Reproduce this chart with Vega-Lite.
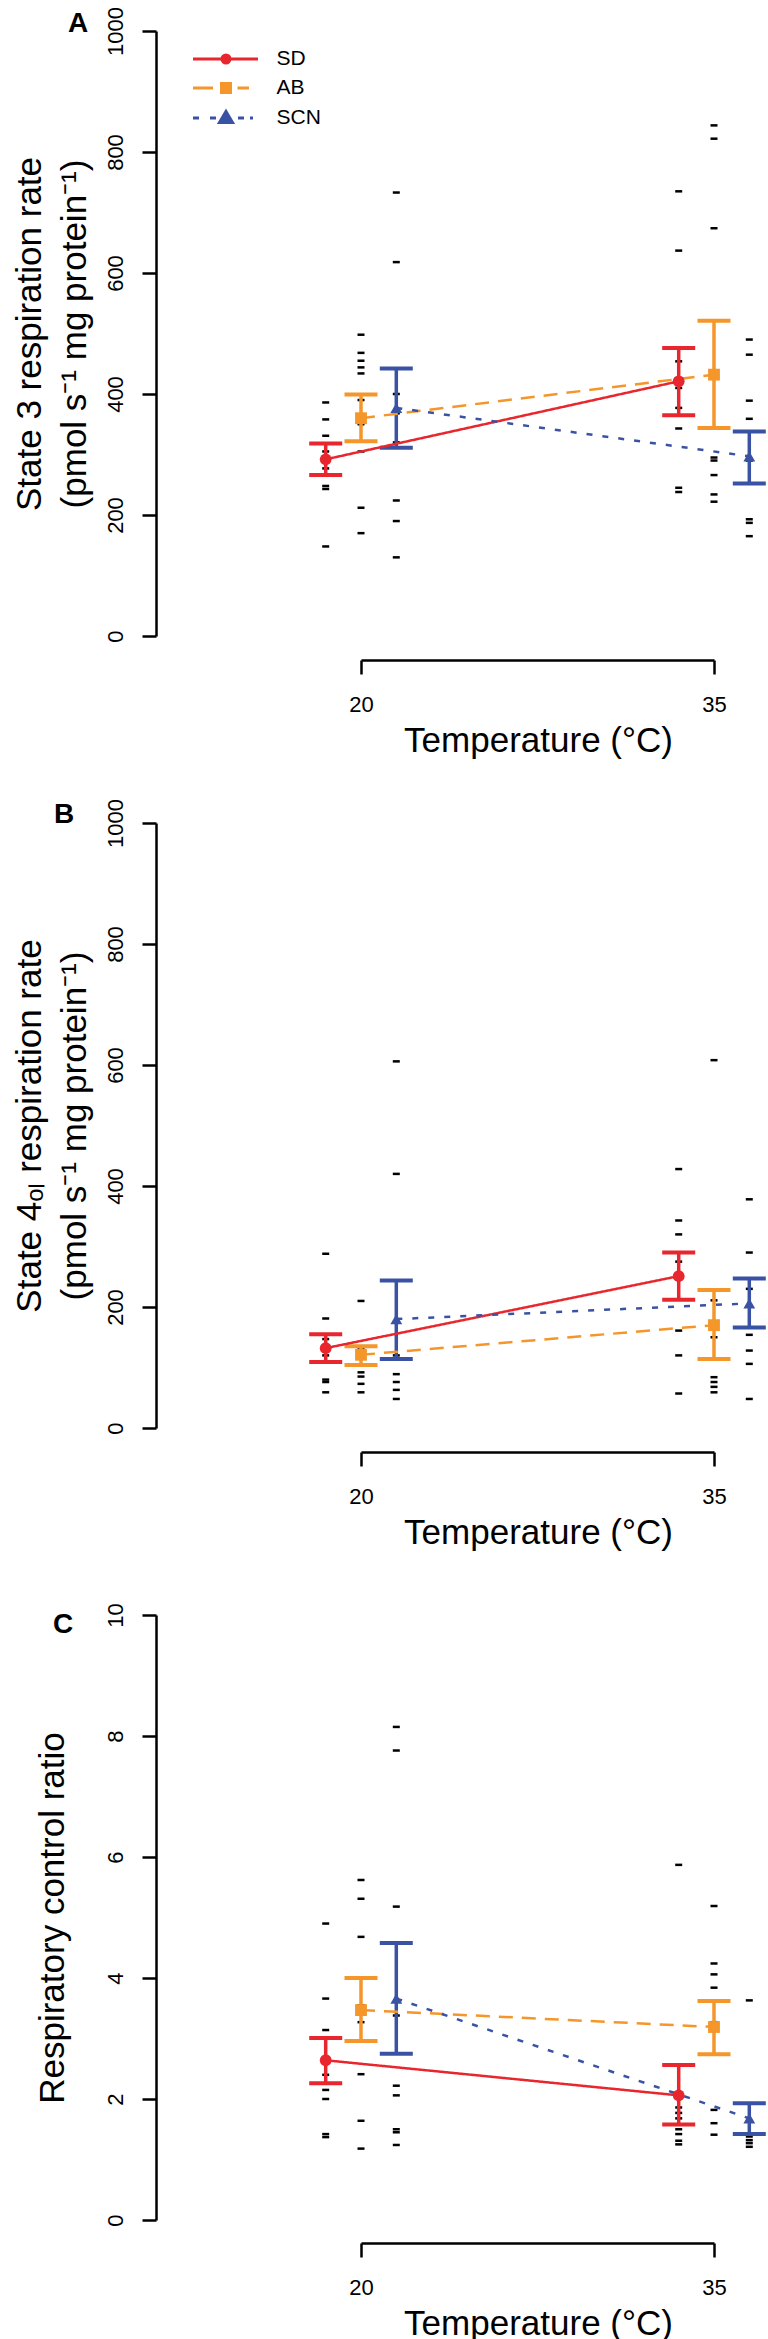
{
  "$schema": "https://vega.github.io/schema/vega-lite/v6.json",
  "background": "white",
  "autosize": {"type": "pad"},
  "padding": {"left": 12, "top": 6, "right": 0, "bottom": 0},
  "bounds": "flush",
  "spacing": 187,
  "resolve": {"scale": {"color": "independent", "shape": "independent", "strokeDash": "independent", "fill": "independent", "stroke": "independent"}},
  "datasets": {
    "aMeans": [
      {"group": "SD", "temp": 20, "x": 18.5, "mean": 292, "lo": 266, "hi": 318},
      {"group": "AB", "temp": 20, "x": 20, "mean": 360, "lo": 322, "hi": 399},
      {"group": "SCN", "temp": 20, "x": 21.5, "mean": 377, "lo": 311, "hi": 442},
      {"group": "SD", "temp": 35, "x": 33.5, "mean": 421, "lo": 365, "hi": 476},
      {"group": "AB", "temp": 35, "x": 35, "mean": 432, "lo": 344, "hi": 521},
      {"group": "SCN", "temp": 35, "x": 36.5, "mean": 297, "lo": 252, "hi": 338}
    ],
    "bMeans": [
      {"group": "SD", "temp": 20, "x": 18.5, "mean": 132, "lo": 109, "hi": 155},
      {"group": "AB", "temp": 20, "x": 20, "mean": 121, "lo": 104, "hi": 135},
      {"group": "SCN", "temp": 20, "x": 21.5, "mean": 180, "lo": 114, "hi": 244},
      {"group": "SD", "temp": 35, "x": 33.5, "mean": 251, "lo": 212, "hi": 290},
      {"group": "AB", "temp": 35, "x": 35, "mean": 170, "lo": 114, "hi": 228},
      {"group": "SCN", "temp": 35, "x": 36.5, "mean": 206, "lo": 166, "hi": 247}
    ],
    "cMeans": [
      {"group": "SD", "temp": 20, "x": 18.5, "mean": 2.64, "lo": 2.26, "hi": 3.01},
      {"group": "AB", "temp": 20, "x": 20, "mean": 3.47, "lo": 2.96, "hi": 4.0},
      {"group": "SCN", "temp": 20, "x": 21.5, "mean": 3.66, "lo": 2.75, "hi": 4.58},
      {"group": "SD", "temp": 35, "x": 33.5, "mean": 2.06, "lo": 1.58, "hi": 2.56},
      {"group": "AB", "temp": 35, "x": 35, "mean": 3.19, "lo": 2.74, "hi": 3.62},
      {"group": "SCN", "temp": 35, "x": 36.5, "mean": 1.68, "lo": 1.42, "hi": 1.93}
    ],
    "aPts": [
      {"group": "SD", "x": 18.5, "value": 386}, {"group": "SD", "x": 18.5, "value": 358}, {"group": "SD", "x": 18.5, "value": 331}, {"group": "SD", "x": 18.5, "value": 305}, {"group": "SD", "x": 18.5, "value": 277}, {"group": "SD", "x": 18.5, "value": 248}, {"group": "SD", "x": 18.5, "value": 243}, {"group": "SD", "x": 18.5, "value": 148},
      {"group": "AB", "x": 20, "value": 498}, {"group": "AB", "x": 20, "value": 468}, {"group": "AB", "x": 20, "value": 455}, {"group": "AB", "x": 20, "value": 444}, {"group": "AB", "x": 20, "value": 434}, {"group": "AB", "x": 20, "value": 390}, {"group": "AB", "x": 20, "value": 350}, {"group": "AB", "x": 20, "value": 305}, {"group": "AB", "x": 20, "value": 212}, {"group": "AB", "x": 20, "value": 170},
      {"group": "SCN", "x": 21.5, "value": 733}, {"group": "SCN", "x": 21.5, "value": 618}, {"group": "SCN", "x": 21.5, "value": 400}, {"group": "SCN", "x": 21.5, "value": 368}, {"group": "SCN", "x": 21.5, "value": 320}, {"group": "SCN", "x": 21.5, "value": 224}, {"group": "SCN", "x": 21.5, "value": 190}, {"group": "SCN", "x": 21.5, "value": 130},
      {"group": "SD", "x": 33.5, "value": 735}, {"group": "SD", "x": 33.5, "value": 637}, {"group": "SD", "x": 33.5, "value": 454}, {"group": "SD", "x": 33.5, "value": 410}, {"group": "SD", "x": 33.5, "value": 377}, {"group": "SD", "x": 33.5, "value": 343}, {"group": "SD", "x": 33.5, "value": 245}, {"group": "SD", "x": 33.5, "value": 238},
      {"group": "AB", "x": 35, "value": 844}, {"group": "AB", "x": 35, "value": 822}, {"group": "AB", "x": 35, "value": 674}, {"group": "AB", "x": 35, "value": 295}, {"group": "AB", "x": 35, "value": 290}, {"group": "AB", "x": 35, "value": 266}, {"group": "AB", "x": 35, "value": 234}, {"group": "AB", "x": 35, "value": 222},
      {"group": "SCN", "x": 36.5, "value": 490}, {"group": "SCN", "x": 36.5, "value": 465}, {"group": "SCN", "x": 36.5, "value": 389}, {"group": "SCN", "x": 36.5, "value": 359}, {"group": "SCN", "x": 36.5, "value": 290}, {"group": "SCN", "x": 36.5, "value": 193}, {"group": "SCN", "x": 36.5, "value": 187}, {"group": "SCN", "x": 36.5, "value": 165}
    ],
    "bPts": [
      {"group": "SD", "x": 18.5, "value": 288}, {"group": "SD", "x": 18.5, "value": 181}, {"group": "SD", "x": 18.5, "value": 147}, {"group": "SD", "x": 18.5, "value": 120}, {"group": "SD", "x": 18.5, "value": 80}, {"group": "SD", "x": 18.5, "value": 76}, {"group": "SD", "x": 18.5, "value": 59},
      {"group": "AB", "x": 20, "value": 210}, {"group": "AB", "x": 20, "value": 130}, {"group": "AB", "x": 20, "value": 115}, {"group": "AB", "x": 20, "value": 92}, {"group": "AB", "x": 20, "value": 85}, {"group": "AB", "x": 20, "value": 73}, {"group": "AB", "x": 20, "value": 59},
      {"group": "SCN", "x": 21.5, "value": 606}, {"group": "SCN", "x": 21.5, "value": 420}, {"group": "SCN", "x": 21.5, "value": 120}, {"group": "SCN", "x": 21.5, "value": 89}, {"group": "SCN", "x": 21.5, "value": 76}, {"group": "SCN", "x": 21.5, "value": 63}, {"group": "SCN", "x": 21.5, "value": 48},
      {"group": "SD", "x": 33.5, "value": 428}, {"group": "SD", "x": 33.5, "value": 343}, {"group": "SD", "x": 33.5, "value": 320}, {"group": "SD", "x": 33.5, "value": 275}, {"group": "SD", "x": 33.5, "value": 161}, {"group": "SD", "x": 33.5, "value": 120}, {"group": "SD", "x": 33.5, "value": 57},
      {"group": "AB", "x": 35, "value": 608}, {"group": "AB", "x": 35, "value": 211}, {"group": "AB", "x": 35, "value": 150}, {"group": "AB", "x": 35, "value": 84}, {"group": "AB", "x": 35, "value": 76}, {"group": "AB", "x": 35, "value": 68}, {"group": "AB", "x": 35, "value": 59},
      {"group": "SCN", "x": 36.5, "value": 378}, {"group": "SCN", "x": 36.5, "value": 290}, {"group": "SCN", "x": 36.5, "value": 230}, {"group": "SCN", "x": 36.5, "value": 154}, {"group": "SCN", "x": 36.5, "value": 128}, {"group": "SCN", "x": 36.5, "value": 106}, {"group": "SCN", "x": 36.5, "value": 48}
    ],
    "cPts": [
      {"group": "SD", "x": 18.5, "value": 4.9}, {"group": "SD", "x": 18.5, "value": 3.66}, {"group": "SD", "x": 18.5, "value": 3.14}, {"group": "SD", "x": 18.5, "value": 2.4}, {"group": "SD", "x": 18.5, "value": 2.15}, {"group": "SD", "x": 18.5, "value": 2.0}, {"group": "SD", "x": 18.5, "value": 1.42}, {"group": "SD", "x": 18.5, "value": 1.37},
      {"group": "AB", "x": 20, "value": 5.62}, {"group": "AB", "x": 20, "value": 5.31}, {"group": "AB", "x": 20, "value": 4.68}, {"group": "AB", "x": 20, "value": 3.55}, {"group": "AB", "x": 20, "value": 3.27}, {"group": "AB", "x": 20, "value": 2.41}, {"group": "AB", "x": 20, "value": 1.64}, {"group": "AB", "x": 20, "value": 1.18},
      {"group": "SCN", "x": 21.5, "value": 8.15}, {"group": "SCN", "x": 21.5, "value": 7.76}, {"group": "SCN", "x": 21.5, "value": 5.18}, {"group": "SCN", "x": 21.5, "value": 3.38}, {"group": "SCN", "x": 21.5, "value": 2.22}, {"group": "SCN", "x": 21.5, "value": 2.06}, {"group": "SCN", "x": 21.5, "value": 1.5}, {"group": "SCN", "x": 21.5, "value": 1.45}, {"group": "SCN", "x": 21.5, "value": 1.24},
      {"group": "SD", "x": 33.5, "value": 5.87}, {"group": "SD", "x": 33.5, "value": 1.86}, {"group": "SD", "x": 33.5, "value": 1.77}, {"group": "SD", "x": 33.5, "value": 1.68}, {"group": "SD", "x": 33.5, "value": 1.5}, {"group": "SD", "x": 33.5, "value": 1.42}, {"group": "SD", "x": 33.5, "value": 1.31}, {"group": "SD", "x": 33.5, "value": 1.25},
      {"group": "AB", "x": 35, "value": 5.19}, {"group": "AB", "x": 35, "value": 4.24}, {"group": "AB", "x": 35, "value": 4.06}, {"group": "AB", "x": 35, "value": 3.84}, {"group": "AB", "x": 35, "value": 3.27}, {"group": "AB", "x": 35, "value": 1.82}, {"group": "AB", "x": 35, "value": 1.6}, {"group": "AB", "x": 35, "value": 1.41},
      {"group": "SCN", "x": 36.5, "value": 3.63}, {"group": "SCN", "x": 36.5, "value": 1.38}, {"group": "SCN", "x": 36.5, "value": 1.32}, {"group": "SCN", "x": 36.5, "value": 1.27}, {"group": "SCN", "x": 36.5, "value": 1.21}
    ]
  },
  "vconcat": [
    {
      "width": 353,
      "height": 605,
      "title": {"text": "A", "anchor": "start", "frame": "group", "orient": "top", "offset": 0, "dx": -293, "dy": 53, "fontSize": 28, "fontWeight": "bold", "font": "Liberation Sans", "color": "black", "baseline": "alphabetic"},
      "resolve": {"scale": {"shape": "independent", "fill": "independent", "stroke": "independent"}},
      "layer": [
        {
          "data": {"name": "aPts"},
          "mark": {"type": "tick", "orient": "horizontal", "size": 7, "thickness": 2.5, "color": "black", "opacity": 1},
          "encoding": {
            "x": {"field": "x", "type": "quantitative", "title": "Temperature (°C)", "scale": {"domain": [20, 35], "nice": false, "zero": false},
                  "axis": {"values": [20, 35], "offset": 24, "labelPadding": 20, "title": "Temperature (°C)", "titleFontSize": 35, "titleX": 177, "titleY": 91, "titleAlign": "center", "titleBaseline": "alphabetic"}},
            "y": {"field": "value", "type": "quantitative", "title": ["State 3 respiration rate", "(pmol s⁻¹ mg protein⁻¹)"], "scale": {"domain": [0, 1000], "nice": false, "zero": false},
                  "axis": {"values": [0, 200, 400, 600, 800, 1000], "format": "d", "offset": 205, "labelAngle": 270, "labelAlign": "center", "labelBaseline": "bottom", "labelPadding": 15, "title": ["State 3 respiration rate", "(pmol s⁻¹ mg protein⁻¹)"], "titleFontSize": 35, "titleX": -116, "titleY": 302.5, "titleAngle": 270, "titleAlign": "center", "titleBaseline": "alphabetic", "titleLineHeight": 45}}
          }
        },
        {
          "data": {"name": "aMeans"},
          "mark": {"type": "rule", "strokeWidth": 3.5},
          "encoding": {
            "x": {"field": "x", "type": "quantitative", "title": "Temperature (°C)", "scale": {"domain": [20, 35], "nice": false, "zero": false}},
            "y": {"field": "lo", "type": "quantitative", "title": ["State 3 respiration rate", "(pmol s⁻¹ mg protein⁻¹)"], "scale": {"domain": [0, 1000], "nice": false, "zero": false}},
            "y2": {"field": "hi"},
            "color": {"field": "group", "type": "nominal", "scale": {"domain": ["SD", "AB", "SCN"], "range": ["#e8262d", "#f5962a", "#3a52a3"]}, "legend": null}
          }
        },
        {
          "data": {"name": "aMeans"},
          "mark": {"type": "tick", "orient": "horizontal", "size": 33, "thickness": 4, "opacity": 1},
          "encoding": {
            "x": {"field": "x", "type": "quantitative", "title": "Temperature (°C)", "scale": {"domain": [20, 35], "nice": false, "zero": false}},
            "y": {"field": "hi", "type": "quantitative", "title": ["State 3 respiration rate", "(pmol s⁻¹ mg protein⁻¹)"], "scale": {"domain": [0, 1000], "nice": false, "zero": false}},
            "color": {"field": "group", "type": "nominal", "scale": {"domain": ["SD", "AB", "SCN"], "range": ["#e8262d", "#f5962a", "#3a52a3"]}, "legend": null}
          }
        },
        {
          "data": {"name": "aMeans"},
          "mark": {"type": "tick", "orient": "horizontal", "size": 33, "thickness": 4, "opacity": 1},
          "encoding": {
            "x": {"field": "x", "type": "quantitative", "title": "Temperature (°C)", "scale": {"domain": [20, 35], "nice": false, "zero": false}},
            "y": {"field": "lo", "type": "quantitative", "title": ["State 3 respiration rate", "(pmol s⁻¹ mg protein⁻¹)"], "scale": {"domain": [0, 1000], "nice": false, "zero": false}},
            "color": {"field": "group", "type": "nominal", "scale": {"domain": ["SD", "AB", "SCN"], "range": ["#e8262d", "#f5962a", "#3a52a3"]}, "legend": null}
          }
        },
        {
          "data": {"name": "aMeans"},
          "mark": {"type": "line", "strokeWidth": 2.5},
          "encoding": {
            "x": {"field": "x", "type": "quantitative", "title": "Temperature (°C)", "scale": {"domain": [20, 35], "nice": false, "zero": false}},
            "y": {"field": "mean", "type": "quantitative", "title": ["State 3 respiration rate", "(pmol s⁻¹ mg protein⁻¹)"], "scale": {"domain": [0, 1000], "nice": false, "zero": false}},
            "color": {"field": "group", "type": "nominal", "scale": {"domain": ["SD", "AB", "SCN"], "range": ["#e8262d", "#f5962a", "#3a52a3"]}, "legend": null},
            "strokeDash": {"field": "group", "type": "nominal", "scale": {"domain": ["SD", "AB", "SCN"], "range": [[1, 0], [14, 9], [6, 10]]}, "legend": null}
          }
        },
        {
          "data": {"name": "aMeans"},
          "mark": {"type": "point", "filled": true, "size": 140, "opacity": 1},
          "encoding": {
            "x": {"field": "x", "type": "quantitative", "title": "Temperature (°C)", "scale": {"domain": [20, 35], "nice": false, "zero": false}},
            "y": {"field": "mean", "type": "quantitative", "title": ["State 3 respiration rate", "(pmol s⁻¹ mg protein⁻¹)"], "scale": {"domain": [0, 1000], "nice": false, "zero": false}},
            "color": {"field": "group", "type": "nominal", "scale": {"domain": ["SD", "AB", "SCN"], "range": ["#e8262d", "#f5962a", "#3a52a3"]}, "legend": null},
            "shape": {"field": "group", "type": "nominal", "scale": {"domain": ["SD", "AB", "SCN"], "range": ["circle", "square", "triangle-up"]}, "legend": null}
          }
        },
        {
          "data": {"name": "aMeans"},
          "transform": [{"filter": "false"}],
          "mark": {"type": "point", "filled": true, "opacity": 1},
          "encoding": {
            "fill": {"field": "group", "type": "nominal", "scale": {"domain": ["SD", "AB", "SCN"], "range": ["#e8262d", "#f5962a", "#3a52a3"]},
                     "legend": {"title": null, "orient": "none", "legendX": -145.5, "legendY": 17.5, "symbolSize": 100, "symbolStrokeWidth": 3, "labelFontSize": 21, "labelFont": "Liberation Sans", "labelColor": "black", "labelOffset": 40, "rowPadding": 7, "padding": 0, "labelLimit": 0}},
            "stroke": {"field": "group", "type": "nominal", "scale": {"domain": ["SD", "AB", "SCN"], "range": ["#e8262d", "#f5962a", "#3a52a3"]},
                     "legend": {"title": null, "orient": "none", "legendX": -145.5, "legendY": 17.5, "symbolSize": 100, "symbolStrokeWidth": 3, "labelFontSize": 21, "labelFont": "Liberation Sans", "labelColor": "black", "labelOffset": 40, "rowPadding": 7, "padding": 0, "labelLimit": 0}},
            "shape": {"field": "group", "type": "nominal", "scale": {"domain": ["SD", "AB", "SCN"], "range": ["M-6.6,0L6.4,0M-0.8,0A0.8,0.8 0 1,0 0.8,0A0.8,0.8 0 1,0 -0.8,0Z", "M-6.6,0L-2.6,0M2.3,0L4.6,0M-0.9,-0.9L0.9,-0.9L0.9,0.9L-0.9,0.9Z", "M-6.6,0L-5.4,0M-3.2,0L-2,0M2.4,0L3.6,0M4.8,0L5.4,0M0,-1.3L1.3,0.9L-1.3,0.9Z"]},
                     "legend": {"title": null, "orient": "none", "legendX": -145.5, "legendY": 17.5, "symbolSize": 100, "symbolStrokeWidth": 3, "labelFontSize": 21, "labelFont": "Liberation Sans", "labelColor": "black", "labelOffset": 40, "rowPadding": 7, "padding": 0, "labelLimit": 0}}
          }
        }
      ]
    },
    {
      "width": 353,
      "height": 605,
      "title": {"text": "B", "anchor": "start", "frame": "group", "orient": "top", "offset": 0, "dx": -307, "dy": 52, "fontSize": 28, "fontWeight": "bold", "font": "Liberation Sans", "color": "black", "baseline": "alphabetic"},
      "layer": [
        {
          "data": {"name": "bPts"},
          "mark": {"type": "tick", "orient": "horizontal", "size": 7, "thickness": 2.5, "color": "black", "opacity": 1},
          "encoding": {
            "x": {"field": "x", "type": "quantitative", "title": "Temperature (°C)", "scale": {"domain": [20, 35], "nice": false, "zero": false},
                  "axis": {"values": [20, 35], "offset": 24, "labelPadding": 20, "title": "Temperature (°C)", "titleFontSize": 35, "titleX": 177, "titleY": 91, "titleAlign": "center", "titleBaseline": "alphabetic"}},
            "y": {"field": "value", "type": "quantitative", "title": ["State 4ₒₗ respiration rate", "(pmol s⁻¹ mg protein⁻¹)"], "scale": {"domain": [0, 1000], "nice": false, "zero": false},
                  "axis": {"values": [0, 200, 400, 600, 800, 1000], "format": "d", "offset": 205, "labelAngle": 270, "labelAlign": "center", "labelBaseline": "bottom", "labelPadding": 15, "title": ["State 4ₒₗ respiration rate", "(pmol s⁻¹ mg protein⁻¹)"], "titleFontSize": 35, "titleX": -116, "titleY": 302.5, "titleAngle": 270, "titleAlign": "center", "titleBaseline": "alphabetic", "titleLineHeight": 45}}
          }
        },
        {
          "data": {"name": "bMeans"},
          "mark": {"type": "rule", "strokeWidth": 3.5},
          "encoding": {
            "x": {"field": "x", "type": "quantitative", "title": "Temperature (°C)", "scale": {"domain": [20, 35], "nice": false, "zero": false}},
            "y": {"field": "lo", "type": "quantitative", "title": ["State 4ₒₗ respiration rate", "(pmol s⁻¹ mg protein⁻¹)"], "scale": {"domain": [0, 1000], "nice": false, "zero": false}},
            "y2": {"field": "hi"},
            "color": {"field": "group", "type": "nominal", "scale": {"domain": ["SD", "AB", "SCN"], "range": ["#e8262d", "#f5962a", "#3a52a3"]}, "legend": null}
          }
        },
        {
          "data": {"name": "bMeans"},
          "mark": {"type": "tick", "orient": "horizontal", "size": 33, "thickness": 4, "opacity": 1},
          "encoding": {
            "x": {"field": "x", "type": "quantitative", "title": "Temperature (°C)", "scale": {"domain": [20, 35], "nice": false, "zero": false}},
            "y": {"field": "hi", "type": "quantitative", "title": ["State 4ₒₗ respiration rate", "(pmol s⁻¹ mg protein⁻¹)"], "scale": {"domain": [0, 1000], "nice": false, "zero": false}},
            "color": {"field": "group", "type": "nominal", "scale": {"domain": ["SD", "AB", "SCN"], "range": ["#e8262d", "#f5962a", "#3a52a3"]}, "legend": null}
          }
        },
        {
          "data": {"name": "bMeans"},
          "mark": {"type": "tick", "orient": "horizontal", "size": 33, "thickness": 4, "opacity": 1},
          "encoding": {
            "x": {"field": "x", "type": "quantitative", "title": "Temperature (°C)", "scale": {"domain": [20, 35], "nice": false, "zero": false}},
            "y": {"field": "lo", "type": "quantitative", "title": ["State 4ₒₗ respiration rate", "(pmol s⁻¹ mg protein⁻¹)"], "scale": {"domain": [0, 1000], "nice": false, "zero": false}},
            "color": {"field": "group", "type": "nominal", "scale": {"domain": ["SD", "AB", "SCN"], "range": ["#e8262d", "#f5962a", "#3a52a3"]}, "legend": null}
          }
        },
        {
          "data": {"name": "bMeans"},
          "mark": {"type": "line", "strokeWidth": 2.5},
          "encoding": {
            "x": {"field": "x", "type": "quantitative", "title": "Temperature (°C)", "scale": {"domain": [20, 35], "nice": false, "zero": false}},
            "y": {"field": "mean", "type": "quantitative", "title": ["State 4ₒₗ respiration rate", "(pmol s⁻¹ mg protein⁻¹)"], "scale": {"domain": [0, 1000], "nice": false, "zero": false}},
            "color": {"field": "group", "type": "nominal", "scale": {"domain": ["SD", "AB", "SCN"], "range": ["#e8262d", "#f5962a", "#3a52a3"]}, "legend": null},
            "strokeDash": {"field": "group", "type": "nominal", "scale": {"domain": ["SD", "AB", "SCN"], "range": [[1, 0], [14, 9], [6, 10]]}, "legend": null}
          }
        },
        {
          "data": {"name": "bMeans"},
          "mark": {"type": "point", "filled": true, "size": 140, "opacity": 1},
          "encoding": {
            "x": {"field": "x", "type": "quantitative", "title": "Temperature (°C)", "scale": {"domain": [20, 35], "nice": false, "zero": false}},
            "y": {"field": "mean", "type": "quantitative", "title": ["State 4ₒₗ respiration rate", "(pmol s⁻¹ mg protein⁻¹)"], "scale": {"domain": [0, 1000], "nice": false, "zero": false}},
            "color": {"field": "group", "type": "nominal", "scale": {"domain": ["SD", "AB", "SCN"], "range": ["#e8262d", "#f5962a", "#3a52a3"]}, "legend": null},
            "shape": {"field": "group", "type": "nominal", "scale": {"domain": ["SD", "AB", "SCN"], "range": ["circle", "square", "triangle-up"]}, "legend": null}
          }
        }
      ]
    },
    {
      "width": 353,
      "height": 605,
      "title": {"text": "C", "anchor": "start", "frame": "group", "orient": "top", "offset": 0, "dx": -308, "dy": 58, "fontSize": 28, "fontWeight": "bold", "font": "Liberation Sans", "color": "black", "baseline": "alphabetic"},
      "layer": [
        {
          "data": {"name": "cPts"},
          "mark": {"type": "tick", "orient": "horizontal", "size": 7, "thickness": 2.5, "color": "black", "opacity": 1},
          "encoding": {
            "x": {"field": "x", "type": "quantitative", "title": "Temperature (°C)", "scale": {"domain": [20, 35], "nice": false, "zero": false},
                  "axis": {"values": [20, 35], "offset": 23, "labelPadding": 20, "title": "Temperature (°C)", "titleFontSize": 35, "titleX": 177, "titleY": 91, "titleAlign": "center", "titleBaseline": "alphabetic"}},
            "y": {"field": "value", "type": "quantitative", "title": "Respiratory control ratio", "scale": {"domain": [0, 10], "nice": false, "zero": false},
                  "axis": {"values": [0, 2, 4, 6, 8, 10], "format": "d", "offset": 205, "labelAngle": 270, "labelAlign": "center", "labelBaseline": "bottom", "labelPadding": 15, "title": "Respiratory control ratio", "titleFontSize": 35, "titleX": -93, "titleY": 302.5, "titleAngle": 270, "titleAlign": "center", "titleBaseline": "alphabetic"}}
          }
        },
        {
          "data": {"name": "cMeans"},
          "mark": {"type": "rule", "strokeWidth": 3.5},
          "encoding": {
            "x": {"field": "x", "type": "quantitative", "title": "Temperature (°C)", "scale": {"domain": [20, 35], "nice": false, "zero": false}},
            "y": {"field": "lo", "type": "quantitative", "title": "Respiratory control ratio", "scale": {"domain": [0, 10], "nice": false, "zero": false}},
            "y2": {"field": "hi"},
            "color": {"field": "group", "type": "nominal", "scale": {"domain": ["SD", "AB", "SCN"], "range": ["#e8262d", "#f5962a", "#3a52a3"]}, "legend": null}
          }
        },
        {
          "data": {"name": "cMeans"},
          "mark": {"type": "tick", "orient": "horizontal", "size": 33, "thickness": 4, "opacity": 1},
          "encoding": {
            "x": {"field": "x", "type": "quantitative", "title": "Temperature (°C)", "scale": {"domain": [20, 35], "nice": false, "zero": false}},
            "y": {"field": "hi", "type": "quantitative", "title": "Respiratory control ratio", "scale": {"domain": [0, 10], "nice": false, "zero": false}},
            "color": {"field": "group", "type": "nominal", "scale": {"domain": ["SD", "AB", "SCN"], "range": ["#e8262d", "#f5962a", "#3a52a3"]}, "legend": null}
          }
        },
        {
          "data": {"name": "cMeans"},
          "mark": {"type": "tick", "orient": "horizontal", "size": 33, "thickness": 4, "opacity": 1},
          "encoding": {
            "x": {"field": "x", "type": "quantitative", "title": "Temperature (°C)", "scale": {"domain": [20, 35], "nice": false, "zero": false}},
            "y": {"field": "lo", "type": "quantitative", "title": "Respiratory control ratio", "scale": {"domain": [0, 10], "nice": false, "zero": false}},
            "color": {"field": "group", "type": "nominal", "scale": {"domain": ["SD", "AB", "SCN"], "range": ["#e8262d", "#f5962a", "#3a52a3"]}, "legend": null}
          }
        },
        {
          "data": {"name": "cMeans"},
          "mark": {"type": "line", "strokeWidth": 2.5},
          "encoding": {
            "x": {"field": "x", "type": "quantitative", "title": "Temperature (°C)", "scale": {"domain": [20, 35], "nice": false, "zero": false}},
            "y": {"field": "mean", "type": "quantitative", "title": "Respiratory control ratio", "scale": {"domain": [0, 10], "nice": false, "zero": false}},
            "color": {"field": "group", "type": "nominal", "scale": {"domain": ["SD", "AB", "SCN"], "range": ["#e8262d", "#f5962a", "#3a52a3"]}, "legend": null},
            "strokeDash": {"field": "group", "type": "nominal", "scale": {"domain": ["SD", "AB", "SCN"], "range": [[1, 0], [14, 9], [6, 10]]}, "legend": null}
          }
        },
        {
          "data": {"name": "cMeans"},
          "mark": {"type": "point", "filled": true, "size": 140, "opacity": 1},
          "encoding": {
            "x": {"field": "x", "type": "quantitative", "title": "Temperature (°C)", "scale": {"domain": [20, 35], "nice": false, "zero": false}},
            "y": {"field": "mean", "type": "quantitative", "title": "Respiratory control ratio", "scale": {"domain": [0, 10], "nice": false, "zero": false}},
            "color": {"field": "group", "type": "nominal", "scale": {"domain": ["SD", "AB", "SCN"], "range": ["#e8262d", "#f5962a", "#3a52a3"]}, "legend": null},
            "shape": {"field": "group", "type": "nominal", "scale": {"domain": ["SD", "AB", "SCN"], "range": ["circle", "square", "triangle-up"]}, "legend": null}
          }
        }
      ]
    }
  ],
  "config": {
    "view": {"stroke": null},
    "font": "Liberation Sans",
    "axis": {"grid": false, "domainColor": "black", "domainWidth": 2.5, "tickColor": "black", "tickWidth": 2.5, "tickSize": 14, "labelColor": "black", "labelFontSize": 22, "labelFont": "Liberation Sans", "titleColor": "black", "titleFont": "Liberation Sans", "titleFontWeight": "normal", "labelOverlap": false, "labelFlush": false}
  }
}
